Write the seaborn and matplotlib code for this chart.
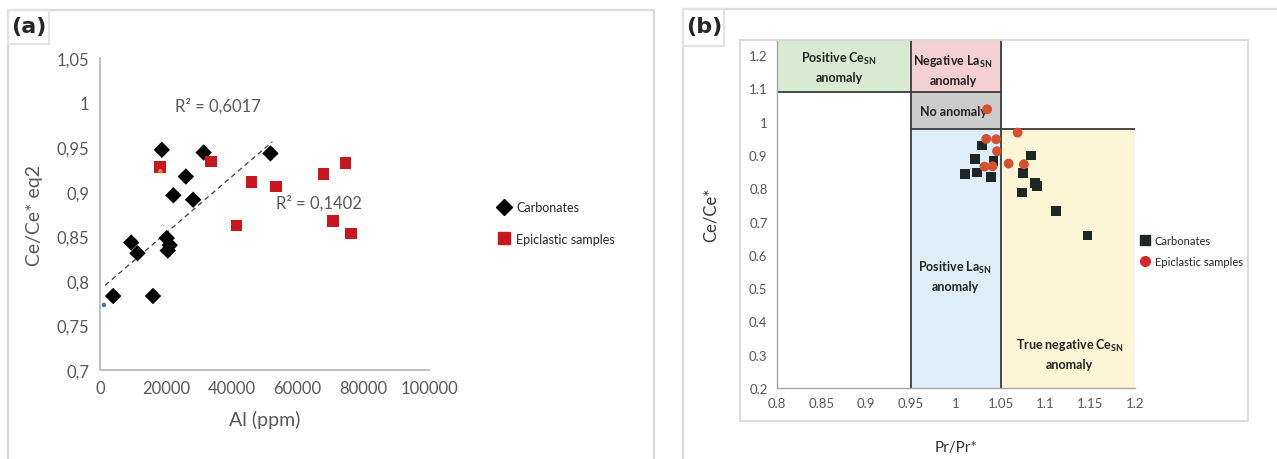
import matplotlib
matplotlib.use('Agg')
import matplotlib.pyplot as plt
from matplotlib.patches import Rectangle
from matplotlib.lines import Line2D
import numpy as np
import pandas as pd
import seaborn as sns

# ---- panel (a): Ce/Ce* eq2 vs Al (ppm)
carb_al = [18800, 31500, 51800, 26100, 22300, 28300, 9500, 11400, 20300, 21200, 20600, 4000, 16100]
carb_ce_a = [0.947, 0.944, 0.943, 0.917, 0.896, 0.891, 0.843, 0.831, 0.848, 0.840, 0.834, 0.783, 0.783]
epi_al = [18300, 33800, 46000, 53500, 41500, 67900, 74600, 70900, 76200]
epi_ce_a = [0.928, 0.934, 0.911, 0.906, 0.862, 0.920, 0.932, 0.867, 0.853]
# leftover tiny points from the spreadsheet
stray_al = [1200, 18300]
stray_ce = [0.773, 0.923]
trend_x = [1600, 52400]
trend_slope = 3.17e-6
trend_intercept = 0.790
r2_labels = ['R² = 0,6017', 'R² = 0,1402']

# ---- panel (b): Ce/Ce* vs Pr/Pr*
carb_pr = [1.029, 1.021, 1.042, 1.010, 1.024, 1.039, 1.084, 1.075, 1.088, 1.091, 1.074, 1.112, 1.147]
carb_ce_b = [0.928, 0.888, 0.881, 0.842, 0.847, 0.833, 0.898, 0.845, 0.815, 0.807, 0.787, 0.732, 0.658]
epi_pr = [1.034, 1.045, 1.069, 1.035, 1.046, 1.059, 1.076, 1.032, 1.041]
epi_ce_b = [0.948, 0.947, 0.967, 1.037, 0.911, 0.874, 0.872, 0.865, 0.866]
# field boundaries
pr_low, pr_high = 0.95, 1.05
ce_low, ce_high = 0.978, 1.09

df_a = pd.DataFrame({'Al': carb_al + epi_al, 'Ce': carb_ce_a + epi_ce_a,
                     'group': ['Carbonates'] * len(carb_al) + ['Epiclastic samples'] * len(epi_al)})
df_b = pd.DataFrame({'Pr': carb_pr + epi_pr, 'Ce': carb_ce_b + epi_ce_b,
                     'group': ['Carbonates'] * len(carb_pr) + ['Epiclastic samples'] * len(epi_pr)})

sns.set_theme(style='white')
plt.rcParams['font.family'] = ['Lato', 'DejaVu Sans']
plt.rcParams['mathtext.fontset'] = 'custom'
plt.rcParams['mathtext.bf'] = 'Lato:bold'

W, H = 1277, 460
fig = plt.figure(figsize=(W / 100, H / 100), dpi=100)
fig.patch.set_facecolor('white')


def fx(px):
    return px / W


def fy(py):
    return 1 - py / H


def frame(x0, y0, x1, y1, color='#d9d9d9', lw=1.6):
    fig.add_artist(Rectangle((fx(x0), fy(y1)), fx(x1 - x0), (y1 - y0) / H,
                             transform=fig.transFigure, fill=False, ec=color, lw=lw))


# panel frames and label boxes
frame(8, 11, 654, 470)
frame(683, 10, 1290, 470)
frame(8, 11, 49, 45, color='#e3e3e3')
frame(683, 10, 724, 47, color='#e3e3e3')
frame(740, 41, 1248, 422, color='#d9d9d9', lw=1.3)
fig.text(fx(29), fy(27), '(a)', ha='center', va='center', fontsize=16, fontweight='bold',
         family='DejaVu Sans')
fig.text(fx(704), fy(27), '(b)', ha='center', va='center', fontsize=16, fontweight='bold',
         family='DejaVu Sans')

grey = '#595959'

# ---------------- (a)
ax1 = fig.add_axes([fx(100), fy(371), fx(329), 312 / H])
sns.scatterplot(data=df_a, x='Al', y='Ce', hue='group', style='group',
                markers={'Carbonates': 'D', 'Epiclastic samples': 's'},
                palette={'Carbonates': 'black', 'Epiclastic samples': '#c8181e'},
                s=70, linewidth=0, legend=False, ax=ax1, zorder=3)
ax1.scatter(stray_al, stray_ce, s=5, c=['#4472c4', '#ed7d31'], zorder=4)
tx = np.array(trend_x)
ax1.plot(tx, trend_intercept + trend_slope * tx, ls=(0, (4, 3)), color='#404040', lw=0.9, zorder=2)
ax1.text(22800, 0.997, r2_labels[0], fontsize=12, color=grey, va='center')
ax1.text(53500, 0.8885, r2_labels[1], fontsize=12, color=grey, va='center')

ax1.set_xlim(0, 100000)
ax1.set_ylim(0.7, 1.05)
ax1.set_xticks(np.arange(0, 100001, 20000))
ax1.set_yticks([0.7, 0.75, 0.8, 0.85, 0.9, 0.95, 1.0, 1.05])
ax1.set_yticklabels(['0,7', '0,75', '0,8', '0,85', '0,9', '0,95', '1', '1,05'])
ax1.set_xlabel('Al (ppm)', fontsize=14, color=grey, labelpad=10)
ax1.set_ylabel('Ce/Ce* eq2', fontsize=14, color=grey, labelpad=10)
for side in ['top', 'right']:
    ax1.spines[side].set_visible(False)
for side in ['left', 'bottom']:
    ax1.spines[side].set_color('#bfbfbf')
    ax1.spines[side].set_linewidth(1.4)
ax1.tick_params(axis='both', which='major', direction='out', length=4, width=1.2,
                color='#bfbfbf', labelcolor=grey, labelsize=12)
ax1.set_facecolor('none')

handles_a = [Line2D([], [], ls='none', marker='D', color='black', markersize=8),
             Line2D([], [], ls='none', marker='s', color='#c8181e', markersize=8)]
ax1.legend(handles_a, ['Carbonates', 'Epiclastic samples'], loc='center left',
           bbox_to_anchor=(fx(486), fy(224)), bbox_transform=fig.transFigure,
           frameon=False, fontsize=9, handletextpad=0.5, labelspacing=1.55, handlelength=1)

# ---------------- (b)
ax2 = fig.add_axes([fx(776.6), fy(389), fx(358.4), 348.3 / H])
ax2.set_xlim(0.8, 1.2)
ax2.set_ylim(0.2, 1.246)
top = 1.246
fields = [
    (0.8, ce_high, pr_low - 0.8, top - ce_high, '#d9ead3'),
    (pr_low, ce_high, pr_high - pr_low, top - ce_high, '#f4d0d3'),
    (pr_low, ce_low, pr_high - pr_low, ce_high - ce_low, '#cccccc'),
    (pr_low, 0.2, pr_high - pr_low, ce_low - 0.2, '#ddeef8'),
    (pr_high, 0.2, 1.2 - pr_high, ce_low - 0.2, '#fcf5d6'),
]
for x0, y0, w, h, c in fields:
    ax2.add_patch(Rectangle((x0, y0), w, h, fc=c, ec='none', zorder=0))
lc = '#3a3a3a'
ax2.plot([0.8, pr_high], [ce_high, ce_high], color=lc, lw=1.3, zorder=1)
ax2.plot([pr_low, 1.2], [ce_low, ce_low], color=lc, lw=1.3, zorder=1)
ax2.plot([pr_low, pr_low], [0.2, top], color=lc, lw=1.3, zorder=1)
ax2.plot([pr_high, pr_high], [0.2, top], color=lc, lw=1.3, zorder=1)

lab = dict(ha='center', va='center', fontsize=9, fontweight='bold', color='#222222',
           linespacing=1.5, zorder=2)
ax2.text(0.870, 1.166, 'Positive Ce$_{\\mathbf{SN}}$\nanomaly', **lab)
ax2.text(0.997, 1.158, 'Negative La$_{\\mathbf{SN}}$\nanomaly', **lab)
ax2.text(0.997, 1.033, 'No anomaly', **lab)
ax2.text(0.999, 0.537, 'Positive La$_{\\mathbf{SN}}$\nanomaly', **lab)
ax2.text(1.127, 0.305, 'True negative Ce$_{\\mathbf{SN}}$\nanomaly', **lab)

sns.scatterplot(data=df_b, x='Pr', y='Ce', hue='group', style='group',
                markers={'Carbonates': 's', 'Epiclastic samples': 'o'},
                palette={'Carbonates': '#1e2626', 'Epiclastic samples': '#d4502e'},
                s=50, linewidth=0, legend=False, ax=ax2, zorder=3)

ax2.set_xticks([0.8, 0.85, 0.9, 0.95, 1.0, 1.05, 1.1, 1.15, 1.2])
ax2.set_xticklabels(['0.8', '0.85', '0.9', '0.95', '1', '1.05', '1.1', '1.15', '1.2'])
ax2.set_yticks(np.round(np.arange(0.2, 1.21, 0.1), 1))
ax2.set_yticklabels(['0.2', '0.3', '0.4', '0.5', '0.6', '0.7', '0.8', '0.9', '1', '1.1', '1.2'])
ax2.set_xlabel('Pr/Pr*', fontsize=11, color='#333333', labelpad=22)
ax2.set_ylabel('Ce/Ce*', fontsize=12, color='#333333', labelpad=22)
for side in ['top', 'right']:
    ax2.spines[side].set_visible(False)
for side in ['left', 'bottom']:
    ax2.spines[side].set_color('#a6a6a6')
    ax2.spines[side].set_linewidth(1.0)
ax2.tick_params(axis='both', which='major', direction='out', length=3, width=1.0,
                color='#a6a6a6', labelcolor=grey, labelsize=9.5)
ax2.set_facecolor('none')

handles_b = [Line2D([], [], ls='none', marker='s', color='#1e2626', markersize=7),
             Line2D([], [], ls='none', marker='o', color='#d42a2a', markersize=7)]
ax2.legend(handles_b, ['Carbonates', 'Epiclastic samples'], loc='center left',
           bbox_to_anchor=(fx(1129), fy(252)), bbox_transform=fig.transFigure,
           frameon=False, fontsize=8, handletextpad=0.4, labelspacing=0.95, handlelength=1)

fig.savefig('out.png', dpi=100, facecolor='white')
